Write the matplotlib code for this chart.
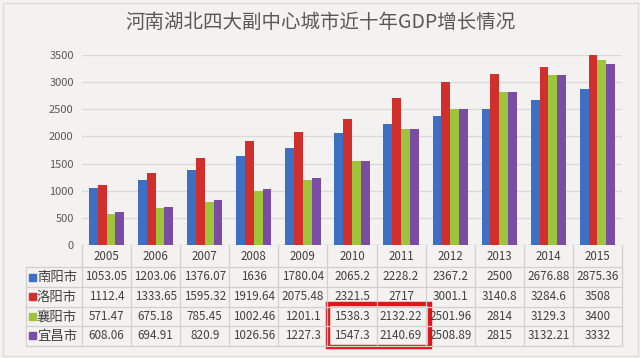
import matplotlib
matplotlib.use("Agg")
import matplotlib.pyplot as plt
import numpy as np

plt.rcParams['font.family'] = ['Noto Sans CJK SC', 'DejaVu Sans']

years = ['2005', '2006', '2007', '2008', '2009', '2010', '2011', '2012', '2013', '2014', '2015']
cities = ['南阳市', '洛阳市', '襄阳市', '宜昌市']
nanyang = [1053.05, 1203.06, 1376.07, 1636, 1780.04, 2065.2, 2228.2, 2367.2, 2500, 2676.88, 2875.36]
luoyang = [1112.4, 1333.65, 1595.32, 1919.64, 2075.48, 2321.5, 2717, 3001.1, 3140.8, 3284.6, 3508]
xiangyang = [571.47, 675.18, 785.45, 1002.46, 1201.1, 1538.3, 2132.22, 2501.96, 2814, 3129.3, 3400]
yichang = [608.06, 694.91, 820.9, 1026.56, 1227.3, 1547.3, 2140.69, 2508.89, 2815, 3132.21, 3332]
labels_tbl = [
    ['1053.05', '1203.06', '1376.07', '1636', '1780.04', '2065.2', '2228.2', '2367.2', '2500', '2676.88', '2875.36'],
    ['1112.4', '1333.65', '1595.32', '1919.64', '2075.48', '2321.5', '2717', '3001.1', '3140.8', '3284.6', '3508'],
    ['571.47', '675.18', '785.45', '1002.46', '1201.1', '1538.3', '2132.22', '2501.96', '2814', '3129.3', '3400'],
    ['608.06', '694.91', '820.9', '1026.56', '1227.3', '1547.3', '2140.69', '2508.89', '2815', '3132.21', '3332'],
]
series = [nanyang, luoyang, xiangyang, yichang]
colors = ['#3d6fc2', '#d12f2b', '#9dc43b', '#7a4ca3']

W, H = 640, 358
bg = '#f3f2f0'
fig = plt.figure(figsize=(W / 100, H / 100), dpi=100, facecolor=bg)

# chart axes in pixel layout
x0, x1 = 82, 622
ytop, ybot = 55, 245
ax = fig.add_axes([x0 / W, 1 - ybot / H, (x1 - x0) / W, (ybot - ytop) / H])
ax.set_facecolor(bg)
n = len(years)
ax.set_xlim(-0.5, n - 0.5)
ax.set_ylim(0, 3500)
ax.set_yticks(np.arange(0, 3501, 500))
ax.tick_params(axis='y', length=0, labelsize=8, labelcolor='#595959', pad=6)
ax.set_xticks([])
for s in ax.spines.values():
    s.set_visible(False)
ax.grid(axis='y', color='#d9d9d9', linewidth=0.9)
ax.set_axisbelow(True)
ax.axhline(0, color='#bfbfbf', linewidth=0.9)

xs = np.arange(n)
bw = 0.18
for i, (vals, c) in enumerate(zip(series, colors)):
    ax.bar(xs + (i - 1.5) * bw, vals, width=bw, color=c, clip_on=False, zorder=3)

# table overlay in pixel coords
tax = fig.add_axes([0, 0, 1, 1], facecolor='none')
tax.set_xlim(0, W)
tax.set_ylim(H, 0)
tax.axis('off')

# faint outer frame
tax.add_patch(plt.Rectangle((2.5, 2.5), W - 5, H - 5, fill=False, edgecolor='#dcdcdc', lw=1))

lc = '#d0d0d0'
colw = (x1 - x0) / n
row_lines = [267, 287, 306.5, 326, 345.5]
tbl_left = 26
for y in row_lines:
    tax.plot([tbl_left, x1], [y, y], color=lc, lw=0.9)
for k in range(n + 1):
    xv = x0 + k * colw
    tax.plot([xv, xv], [245, row_lines[-1]], color=lc, lw=0.9)
tax.plot([tbl_left, tbl_left], [row_lines[0], row_lines[-1]], color=lc, lw=0.9)

tc = '#404040'
for k, yr in enumerate(years):
    tax.text(x0 + (k + 0.5) * colw, 256.5, yr, ha='center', va='center', fontsize=8.3, color=tc)
for r, city in enumerate(cities):
    yc = (row_lines[r] + row_lines[r + 1]) / 2
    tax.add_patch(plt.Rectangle((29, yc - 3.5), 7, 7, color=colors[r]))
    tax.text(37, yc, city, ha='left', va='center', fontsize=9.6, color=tc)
    for k in range(n):
        tax.text(x0 + (k + 0.5) * colw, yc, labels_tbl[r][k], ha='center', va='center',
                 fontsize=8.4, color=tc)

# red highlight box
tax.add_patch(plt.Rectangle((327.5, 303.5), 102, 43, fill=False, edgecolor='#e0161b', lw=3.2))

fig.text(0.5, 1 - 22 / H, '河南湖北四大副中心城市近十年GDP增长情况', ha='center', va='center',
         fontsize=14, color='#595959')

fig.savefig('out.png', dpi=100, facecolor=bg)
